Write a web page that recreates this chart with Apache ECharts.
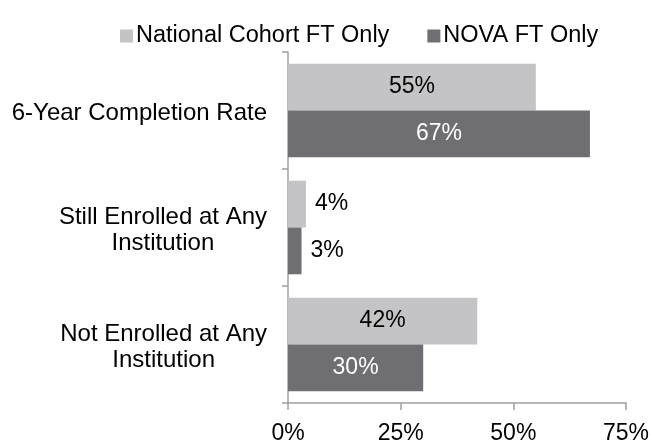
<!DOCTYPE html>
<html>
<head>
<meta charset="utf-8">
<script src="https://cdn.jsdelivr.net/npm/echarts@6/dist/echarts.min.js"></script>
<style>
  html, body { margin: 0; padding: 0; background: #fff; }
  #chart { width: 652px; height: 445px; }
</style>
</head>
<body>
<div id="chart"></div>
<script>
// outcome categories, top to bottom
const categories = ['6-Year Completion Rate', 'Still Enrolled at Any\nInstitution', 'Not Enrolled at Any\nInstitution']
const nationalFT = [55, 4, 42]
const novaFT = [67, 3, 30]
const xTicks = [0, 25, 50, 75]

const FONT = 'Liberation Sans, Arial, sans-serif'
const LIGHT = '#c4c4c6'
const DARK = '#6f6e73'

// small bars get their label outside, to the right
function labelFor(v, insideColor) {
  if (v < 10) {
    return { show: true, position: 'right', distance: 9, color: '#000' }
  }
  return { show: true, position: 'inside', color: insideColor }
}

const chart = echarts.init(document.getElementById('chart'))

chart.setOption({
  animation: false,
  textStyle: { fontFamily: FONT },
  legend: {
    left: 115,
    top: 19,
    itemWidth: 13,
    itemHeight: 13,
    itemGap: 38,
    icon: 'rect',
    textStyle: { fontSize: 23.5, color: '#000', fontFamily: FONT, padding: [0, 0, 0, -2] },
    data: ['National Cohort FT Only', 'NOVA FT Only']
  },
  grid: { left: 288, right: 26, top: 52, bottom: 39, containLabel: false },
  xAxis: {
    type: 'value',
    min: xTicks[0],
    max: xTicks[xTicks.length - 1],
    interval: 25,
    axisLine: { show: true, lineStyle: { color: '#a0a0a0', width: 1.5 } },
    axisTick: { show: true, length: 7, lineStyle: { color: '#a0a0a0', width: 1.5 } },
    splitLine: { show: false },
    axisLabel: { formatter: '{value}%', fontSize: 23, color: '#000', margin: 19, fontFamily: FONT }
  },
  yAxis: {
    type: 'category',
    inverse: true,
    data: categories,
    axisLine: { show: true, lineStyle: { color: '#a0a0a0', width: 1.5 } },
    axisTick: { show: true, length: 6, lineStyle: { color: '#a0a0a0', width: 1.5 } },
    axisLabel: {
      margin: 21,
      align: 'right',
      padding: [6, 0, 0, 0],
      // lines centred inside a right-anchored block
      formatter: v => v.split('\n').map(l => '{c|' + l + '}').join('\n'),
      rich: { c: { align: 'center', fontSize: 24, lineHeight: 26, color: '#000', fontFamily: FONT } }
    }
  },
  series: [
    {
      name: 'National Cohort FT Only',
      type: 'bar',
      barGap: '0%',
      barCategoryGap: '20%',
      itemStyle: { color: LIGHT },
      label: { fontSize: 23, fontFamily: FONT, formatter: '{c}%' },
      data: nationalFT.map(v => ({ value: v, label: labelFor(v, '#000') }))
    },
    {
      name: 'NOVA FT Only',
      type: 'bar',
      barGap: '0%',
      barCategoryGap: '20%',
      itemStyle: { color: DARK },
      label: { fontSize: 23, fontFamily: FONT, formatter: '{c}%' },
      data: novaFT.map(v => ({ value: v, label: labelFor(v, '#fff') }))
    }
  ]
})
</script>
</body>
</html>
